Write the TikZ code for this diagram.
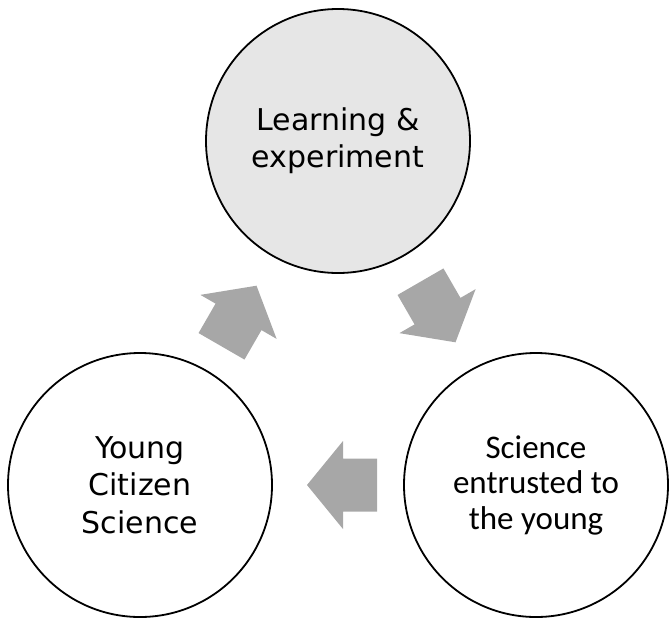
\documentclass[tikz,border=0pt]{standalone}
\usepackage{fontspec}
\setmainfont{DejaVu Sans}
\newfontfamily\carl{Carlito}
\definecolor{topgray}{RGB}{230,230,230}
\definecolor{arrowgray}{RGB}{167,167,167}
\begin{document}
\begin{tikzpicture}[x=1pt,y=-1pt,
  bubble/.style={circle, draw=black, line width=1.8pt, minimum size=264pt, inner sep=0pt, align=center},
  flow/.style={fill=arrowgray, draw=none}]
\useasboundingbox (0,0) rectangle (669,619);
\node[bubble, fill=topgray, font=\fontsize{30}{37}\selectfont] (learn) at (338,141) {Learning \&\\experiment};
\node[bubble, fill=white, font=\fontsize{30}{37.5}\selectfont] (young) at (140,485) {Young\\Citizen\\Science};
\node[bubble, fill=white, font=\carl\fontsize{33}{35.5}\selectfont] (entr) at (536,485) {Science\\entrusted to\\the young};
\foreach \cx/\cy/\ang in {342/485/180, 239/316/60, 438/312/-60}{
  \path[flow, shift={(\cx,\cy)}, rotate=\ang]
    (-35,-26.5) -- (-1,-26.5) -- (-1,-44) -- (35,0) -- (-1,44) -- (-1,26.5) -- (-35,26.5) -- cycle;
}
\end{tikzpicture}
\end{document}
